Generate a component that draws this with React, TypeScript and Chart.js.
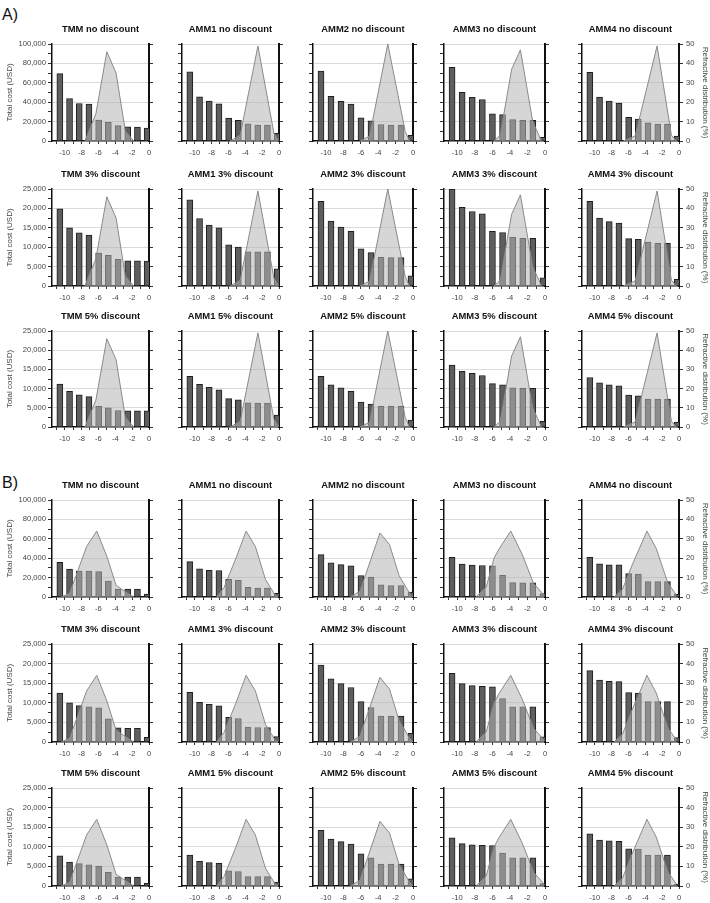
import React, { useEffect, useRef } from 'react';
import { Chart, registerables } from 'chart.js';

Chart.register(...registerables);

// ---------- data ----------
const models = ['TMM', 'AMM1', 'AMM2', 'AMM3', 'AMM4'];
const discounts = ['no discount', '3% discount', '5% discount'];
const barCategories = ['1', '2', '3', '4', '5', '6', '7', '8', '9', '10'];
const costAxisMax = [100000, 25000, 25000];
const distAxisMax = 50;

// Section A – total cost (USD), one row per model (TMM, AMM1..AMM4)
const costANone = [
  [69500, 43800, 38700, 38000, 21600, 19200, 15800, 14700, 14400, 13400],
  [71200, 45500, 41100, 38400, 23600, 21200, 17800, 16400, 16400, 7900],
  [72000, 46000, 41000, 38000, 23800, 20800, 17000, 16500, 16500, 5800],
  [76000, 50300, 45000, 42800, 28000, 27200, 22000, 21400, 21400, 3800],
  [70900, 45200, 41100, 39000, 24300, 22600, 18800, 17500, 17500, 5100],
];
const costA3 = [
  [19900, 15000, 13700, 13100, 8500, 7900, 6900, 6500, 6500, 6400],
  [22200, 17400, 15700, 15000, 10600, 10000, 8800, 8800, 8800, 4400],
  [21800, 16700, 15200, 14100, 9600, 8600, 7400, 7300, 7300, 2600],
  [25000, 20300, 19200, 18600, 14100, 13800, 12600, 12300, 12300, 2100],
  [21800, 17500, 16600, 16200, 12200, 12000, 11300, 11000, 11000, 1700],
];
const costA5 = [
  [11200, 9300, 8400, 7900, 5400, 5000, 4300, 4200, 4200, 4200],
  [13200, 11100, 10300, 9700, 7400, 7100, 6300, 6200, 6200, 3100],
  [13200, 11000, 10200, 9300, 6500, 6000, 5400, 5400, 5400, 1800],
  [16100, 14500, 14000, 13400, 11300, 11000, 10200, 10100, 10100, 1500],
  [12900, 11500, 11000, 10700, 8300, 8100, 7300, 7300, 7300, 1300],
];

// Section B – total cost (USD)
const costBNone = [
  [35700, 28900, 26800, 26800, 26100, 16500, 8200, 8200, 8200, 3100],
  [36500, 29000, 27600, 27300, 18100, 17100, 9900, 9200, 9200, 3800],
  [43700, 35200, 33400, 32100, 22200, 20500, 12600, 11900, 11900, 5100],
  [41000, 33900, 32900, 32500, 32200, 22400, 14900, 14600, 14600, 3400],
  [41000, 34200, 33200, 33200, 24100, 23700, 15900, 15900, 15900, 2700],
];
const costB3 = [
  [12500, 10000, 9300, 9000, 8700, 5900, 3600, 3500, 3500, 1200],
  [12700, 10100, 9600, 9200, 6300, 6000, 3800, 3700, 3700, 1400],
  [19600, 16100, 14900, 13900, 10300, 8800, 6600, 6600, 6600, 2200],
  [17500, 14900, 14400, 14200, 14100, 11100, 9000, 9000, 9000, 1300],
  [18200, 15800, 15500, 15400, 12600, 12500, 10300, 10300, 10300, 1100],
];
const costB5 = [
  [7700, 6100, 5700, 5400, 5100, 3500, 2300, 2300, 2300, 700],
  [7900, 6300, 6000, 5800, 3900, 3700, 2400, 2400, 2400, 1000],
  [14200, 12000, 11300, 10700, 8200, 7200, 5600, 5600, 5600, 1800],
  [12300, 10800, 10500, 10400, 10300, 8400, 7200, 7200, 7200, 600],
  [13300, 11700, 11500, 11400, 9500, 9400, 7900, 7900, 7900, 500],
];

// Refractive distribution (%), refraction (D) vs share, per model
const distAX = [
  [-7.6, -6.3, -5.0, -3.9, -2.8, -1.8],
  [-5.8, -4.6, -2.5, -0.6, 0],
  [-6.1, -5.0, -2.9, -0.9, -0.4],
  [-5.8, -5.1, -3.8, -2.8, -1.4, -0.4],
  [-6.6, -5.2, -2.6, -0.9, -0.3],
];
const distAY = [
  [0, 14, 46, 35, 5, 0],
  [0, 3, 49, 4, 0],
  [0, 2.5, 50, 5, 0],
  [0, 3, 37, 47, 10, 0],
  [0, 2.6, 49, 3, 0],
];
const distBX = [
  [-10.4, -9.4, -7.4, -6.2, -5.0, -3.9, -2.9, -1.8],
  [-7.4, -6.5, -5.1, -3.9, -2.8, -1.6, -0.5, -0.1],
  [-7.2, -6.1, -3.8, -2.7, -1.6, -0.4, 0],
  [-7.9, -6.7, -5.8, -5.2, -3.9, -2.6, -1.3, -0.1],
  [-7.7, -6.7, -5.6, -3.8, -2.7, -1.3, -0.3],
];
const distBY = [
  [0, 2, 26, 34, 21, 6, 3, 0],
  [0, 5, 20, 34, 26, 9, 1.3, 0],
  [0, 3, 33, 27, 11, 2, 0],
  [0, 5, 20, 25, 34, 22, 7, 1],
  [0, 4, 16, 34, 25, 7, 1],
];

const costRows = [costANone, costA3, costA5, costBNone, costB3, costB5];

// ---------- layout ----------
const FONT = "Arial, 'Liberation Sans', Helvetica, sans-serif";
const colLeft = [52, 182, 313, 444, 582];
const colWidth = [97, 97, 100, 101, 97];
const rowTop = [44, 189, 331, 500, 644, 788];
const rowHeight = [97, 97, 96, 97, 98, 98];
const T = 30;
const B = 20;
const TITLE_SIZE = 9.4;

type PanelProps = {
  title: string;
  bars: number[];
  dx: number[];
  dy: number[];
  yMax: number;
  col: number;
  plotLeft: number;
  plotTop: number;
  plotW: number;
  plotH: number;
};

function Panel({ title, bars, dx, dy, yMax, col, plotLeft, plotTop, plotW, plotH }: PanelProps) {
  const ref = useRef<HTMLCanvasElement>(null);
  const L = col === 0 ? plotLeft : 10;
  const R = col === 4 ? 710 - (plotLeft + plotW) : 10;
  const cw = L + plotW + R;
  const ch = T + plotH + B;

  useEffect(() => {
    if (!ref.current) return;
    const major = yMax / 5;
    const tickFont = { family: FONT, size: 7.6 };
    const titlePad = (T - TITLE_SIZE) / 2;
    const chart = new Chart(ref.current, {
      type: 'bar',
      data: {
        labels: barCategories,
        datasets: [
          {
            type: 'line',
            data: dx.map((x, i) => ({ x, y: dy[i] })),
            xAxisID: 'x',
            yAxisID: 'y1',
            fill: 'origin',
            borderColor: '#8a8a8a',
            borderWidth: 1,
            backgroundColor: 'rgba(180,180,180,0.55)',
            pointRadius: 0,
            tension: 0,
            order: 0,
          } as any,
          {
            type: 'bar',
            data: bars,
            xAxisID: 'xb',
            yAxisID: 'y',
            backgroundColor: '#5e5e5e',
            borderColor: '#1e1e1e',
            borderWidth: 1,
            barThickness: 6,
            order: 1,
          } as any,
        ],
      },
      options: {
        animation: false,
        responsive: false,
        maintainAspectRatio: false,
        layout: { padding: 0 },
        plugins: {
          legend: { display: false },
          tooltip: { enabled: false },
          title: {
            display: true,
            text: title,
            color: '#111',
            fullSize: false,
            font: { family: FONT, size: TITLE_SIZE, weight: 'bold', lineHeight: 1 },
            padding: { top: titlePad, bottom: titlePad },
          },
        },
        scales: {
          xb: {
            type: 'category',
            display: false,
            offset: true,
            grid: { display: false },
          },
          x: {
            type: 'linear',
            position: 'bottom',
            min: -11.5,
            max: 0,
            offset: false,
            afterFit: (s: any) => {
              s.height = B;
            },
            border: { display: true, color: '#111', width: 1.5 },
            grid: {
              offset: false,
              drawOnChartArea: false,
              drawTicks: true,
              tickLength: 3,
              tickColor: '#333',
            },
            ticks: {
              stepSize: 1,
              includeBounds: false,
              autoSkip: false,
              maxRotation: 0,
              padding: 4,
              color: '#444',
              font: tickFont,
              callback: (v: any) => (Math.round(v) % 2 === 0 ? String(Math.round(v)) : ''),
            },
          },
          y: {
            type: 'linear',
            position: 'left',
            min: 0,
            max: yMax,
            afterFit: (s: any) => {
              s.width = L;
            },
            border: { display: true, color: '#111', width: 1.5 },
            grid: {
              color: (ctx: any) =>
                ctx.tick && ctx.tick.value > 0 && ctx.tick.value % major === 0 ? '#dadada' : 'rgba(0,0,0,0)',
              tickColor: '#333',
              tickLength: 4,
            },
            ticks: {
              stepSize: yMax / 10,
              autoSkip: false,
              padding: 2,
              color: '#444',
              font: tickFont,
              callback: (v: any) => (col === 0 && v % major === 0 ? Number(v).toLocaleString('en-US') : ''),
            },
            title: {
              display: col === 0,
              text: 'Total cost (USD)',
              color: '#444',
              font: { family: FONT, size: 8, lineHeight: 1.2 },
              padding: { top: 5, bottom: 0 },
            },
          },
          y1: {
            type: 'linear',
            position: 'right',
            min: 0,
            max: distAxisMax,
            afterFit: (s: any) => {
              s.width = R;
            },
            border: { display: true, color: '#111', width: 2 },
            grid: { drawOnChartArea: false, tickColor: '#333', tickLength: 4 },
            ticks: {
              stepSize: 10,
              padding: 3,
              color: '#444',
              font: tickFont,
              callback: (v: any) => (col === 4 ? String(v) : ''),
            },
            title: {
              display: col === 4,
              text: 'Refractive distribution (%)',
              color: '#444',
              font: { family: FONT, size: 8, lineHeight: 1.2 },
              padding: { top: 0, bottom: 0 },
            },
          },
        },
      } as any,
    });
    return () => chart.destroy();
  }, []);

  return (
    <canvas
      ref={ref}
      width={cw}
      height={ch}
      style={{ position: 'absolute', left: plotLeft - L, top: plotTop - T, width: cw, height: ch }}
    />
  );
}

export default function App() {
  const panels: React.ReactNode[] = [];
  for (let r = 0; r < 6; r++) {
    const section = r < 3 ? 'A' : 'B';
    const d = r % 3;
    for (let c = 0; c < 5; c++) {
      panels.push(
        <Panel
          key={`${r}-${c}`}
          title={`${models[c]} ${discounts[d]}`}
          bars={costRows[r][c]}
          dx={section === 'A' ? distAX[c] : distBX[c]}
          dy={section === 'A' ? distAY[c] : distBY[c]}
          yMax={costAxisMax[d]}
          col={c}
          plotLeft={colLeft[c]}
          plotTop={rowTop[r]}
          plotW={colWidth[c]}
          plotH={rowHeight[r]}
        />
      );
    }
  }
  const labelStyle: React.CSSProperties = {
    position: 'absolute',
    left: 2,
    fontFamily: FONT,
    fontSize: 16,
    lineHeight: '16px',
    color: '#111',
  };
  return (
    <div style={{ position: 'absolute', left: 0, top: 0, width: 710, height: 903, background: '#fff', overflow: 'hidden' }}>
      <div style={{ ...labelStyle, top: 7 }}>A)</div>
      <div style={{ ...labelStyle, top: 475 }}>B)</div>
      {panels}
    </div>
  );
}
